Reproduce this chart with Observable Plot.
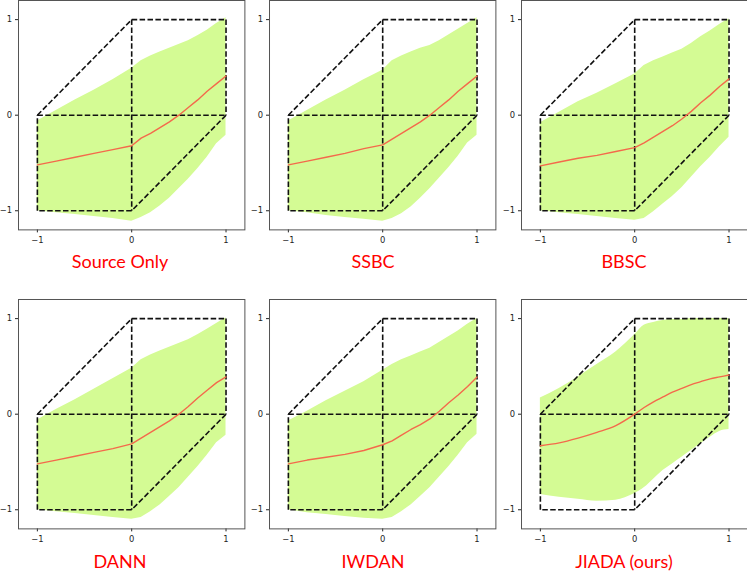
<!DOCTYPE html>
<html>
<head>
<meta charset="utf-8">
<script src="https://cdn.jsdelivr.net/npm/d3@7"></script>
<script src="https://cdn.jsdelivr.net/npm/@observablehq/plot@0.6"></script>
<style>
  html, body { margin: 0; padding: 0; background: #fff; overflow: hidden; }
  #wrap { position: relative; width: 747px; height: 571px; overflow: hidden; }
  #wrap > svg, #wrap > div { position: absolute; }
  #titles { position: absolute; left: 0; top: 0; pointer-events: none; }
</style>
</head>
<body>
<div id="wrap"></div>
<script>
// ---- data ----
const xs = [-1, -0.8, -0.6, -0.4, -0.2, 0, 0.1, 0.2, 0.3, 0.4, 0.5, 0.6, 0.7, 0.8, 0.9, 1];
const titles = ["Source Only", "SSBC", "BBSC", "DANN", "IWDAN", "JIADA (ours)"];
const tickValues = [-1, 0, 1];

const upperSourceOnly = [-0.06, 0.05, 0.16, 0.26, 0.37, 0.49, 0.57, 0.62, 0.66, 0.70, 0.74, 0.78, 0.83, 0.89, 0.96, 1.02];
const lowerSourceOnly = [-1.00, -1.02, -1.04, -1.06, -1.08, -1.11, -1.07, -1.02, -0.95, -0.87, -0.77, -0.67, -0.56, -0.44, -0.30, -0.21];
const meanSourceOnly  = [-0.52, -0.48, -0.44, -0.40, -0.36, -0.32, -0.24, -0.19, -0.13, -0.07, 0.00, 0.08, 0.16, 0.25, 0.33, 0.41];

const upperSSBC = [-0.06, 0.05, 0.16, 0.26, 0.37, 0.47, 0.57, 0.62, 0.66, 0.70, 0.73, 0.78, 0.84, 0.90, 0.96, 1.02];
const lowerSSBC = [-1.00, -1.02, -1.05, -1.07, -1.09, -1.11, -1.08, -1.03, -0.96, -0.87, -0.77, -0.66, -0.55, -0.43, -0.29, -0.21];
const meanSSBC  = [-0.52, -0.48, -0.44, -0.40, -0.35, -0.31, -0.25, -0.19, -0.13, -0.07, 0.00, 0.08, 0.16, 0.25, 0.33, 0.41];

const upperBBSC = [-0.08, 0.03, 0.14, 0.23, 0.33, 0.43, 0.52, 0.57, 0.61, 0.65, 0.69, 0.75, 0.82, 0.88, 0.95, 1.01];
const lowerBBSC = [-1.00, -1.02, -1.04, -1.06, -1.08, -1.10, -1.08, -1.01, -0.93, -0.85, -0.76, -0.65, -0.54, -0.44, -0.33, -0.23];
const meanBBSC  = [-0.53, -0.49, -0.45, -0.42, -0.38, -0.34, -0.29, -0.23, -0.17, -0.11, -0.04, 0.04, 0.13, 0.21, 0.30, 0.38];

const upperDANN = [-0.06, 0.05, 0.15, 0.26, 0.37, 0.48, 0.57, 0.62, 0.66, 0.70, 0.74, 0.78, 0.83, 0.89, 0.95, 1.01];
const lowerDANN = [-1.00, -1.02, -1.04, -1.06, -1.08, -1.10, -1.08, -1.02, -0.95, -0.86, -0.77, -0.66, -0.55, -0.43, -0.30, -0.22];
const meanDANN  = [-0.52, -0.48, -0.44, -0.40, -0.36, -0.31, -0.25, -0.19, -0.13, -0.07, 0.00, 0.08, 0.17, 0.25, 0.33, 0.39];

const upperIWDAN = [-0.07, 0.03, 0.14, 0.24, 0.34, 0.46, 0.52, 0.57, 0.61, 0.65, 0.69, 0.75, 0.81, 0.87, 0.94, 1.00];
const lowerIWDAN = [-1.00, -1.03, -1.05, -1.07, -1.09, -1.10, -1.08, -1.02, -0.95, -0.86, -0.77, -0.66, -0.55, -0.43, -0.30, -0.21];
const meanIWDAN  = [-0.52, -0.48, -0.45, -0.42, -0.38, -0.32, -0.28, -0.22, -0.16, -0.11, -0.05, 0.03, 0.12, 0.20, 0.29, 0.39];

const upperJIADA = [0.17, 0.27, 0.39, 0.52, 0.65, 0.83, 0.93, 0.96, 0.98, 0.99, 0.99, 1.00, 1.00, 1.00, 1.00, 1.00];
const lowerJIADA = [-0.84, -0.87, -0.89, -0.91, -0.90, -0.83, -0.77, -0.68, -0.59, -0.52, -0.45, -0.38, -0.31, -0.24, -0.18, -0.16];
const meanJIADA  = [-0.33, -0.30, -0.25, -0.19, -0.12, 0.00, 0.07, 0.13, 0.18, 0.23, 0.27, 0.31, 0.34, 0.37, 0.39, 0.41];

// projected cube outline (dashed)
const edgeX1 = [-1, 0, 1, 1, 0, -1, -1, 0];
const edgeY1 = [ 0, 1, 1, 0, -1, -1, 0, 1];
const edgeX2 = [ 0, 1, 1, 0, -1, -1, 1, 0];
const edgeY2 = [ 1, 1, 0, -1, -1, 0, 0, -1];

// ---- build ----
const panels = [
  {title: titles[0], upper: upperSourceOnly, lower: lowerSourceOnly, mean: meanSourceOnly, curve: "linear"},
  {title: titles[1], upper: upperSSBC, lower: lowerSSBC, mean: meanSSBC, curve: "linear"},
  {title: titles[2], upper: upperBBSC, lower: lowerBBSC, mean: meanBBSC, curve: "linear"},
  {title: titles[3], upper: upperDANN, lower: lowerDANN, mean: meanDANN, curve: "linear"},
  {title: titles[4], upper: upperIWDAN, lower: lowerIWDAN, mean: meanIWDAN, curve: "linear"},
  {title: titles[5], upper: upperJIADA, lower: lowerJIADA, mean: meanJIADA, curve: "monotone-x"}
];
const edges = edgeX1.map((x1, i) => ({x1, y1: edgeY1[i], x2: edgeX2[i], y2: edgeY2[i]}));

const mL = 18, mR = 2, mT = 4, mB = 30;
const frameW = 226.4, frameH = 229.4;
const frameLefts = [17.8, 269.3, 520.5];
const frameTops = [0, 299.4];
const titleCx = [120, 373, 624];
const titleBase = [267.7, 567.7];
const fmt = d3.format("d");

const wrap = document.getElementById("wrap");

panels.forEach((p, k) => {
  const col = k % 3, row = Math.floor(k / 3);
  const rows = xs.map((x, i) => ({x, lo: p.lower[i], hi: p.upper[i], m: p.mean[i]}));
  const chart = Plot.plot({
    width: mL + frameW + mR,
    height: mT + frameH + mB,
    marginLeft: mL, marginRight: mR, marginTop: mT, marginBottom: mB,
    x: {domain: [-1.2, 1.2], ticks: tickValues, tickFormat: fmt, tickSize: 3, tickPadding: 4, label: null},
    y: {domain: [-1.2, 1.2], ticks: tickValues, tickFormat: fmt, tickSize: 3, tickPadding: 3.5, label: null},
    style: {fontFamily: "DejaVu Sans", fontSize: "8.4px", color: "#222", background: "transparent", overflow: "visible"},
    marks: [
      Plot.areaY(rows, {x: "x", y1: "lo", y2: "hi", fill: "#d4fb94", curve: p.curve}),
      Plot.link(edges, {x1: "x1", y1: "y1", x2: "x2", y2: "y2", stroke: "#111", strokeWidth: 1.6, strokeDasharray: "5.5,2.4"}),
      Plot.line(rows, {x: "x", y: "m", stroke: "#f4694b", strokeWidth: 1.4, curve: p.curve}),
      Plot.frame({stroke: "#555", strokeWidth: 1})
    ]
  });
  chart.style.left = (frameLefts[col] - mL) + "px";
  chart.style.top = (frameTops[row] - mT) + "px";
  wrap.appendChild(chart);
});

// titles as real text
const ns = "http://www.w3.org/2000/svg";
const tsvg = document.createElementNS(ns, "svg");
tsvg.setAttribute("id", "titles");
tsvg.setAttribute("width", 747);
tsvg.setAttribute("height", 571);
panels.forEach((p, k) => {
  const col = k % 3, row = Math.floor(k / 3);
  const t = document.createElementNS(ns, "text");
  t.setAttribute("x", titleCx[col]);
  t.setAttribute("y", titleBase[row]);
  t.setAttribute("text-anchor", "middle");
  t.setAttribute("fill", "#ff0000");
  t.setAttribute("font-family", "Lato, 'Open Sans', sans-serif");
  t.setAttribute("font-size", "18");
  t.textContent = p.title;
  tsvg.appendChild(t);
});
wrap.appendChild(tsvg);
</script>
</body>
</html>
